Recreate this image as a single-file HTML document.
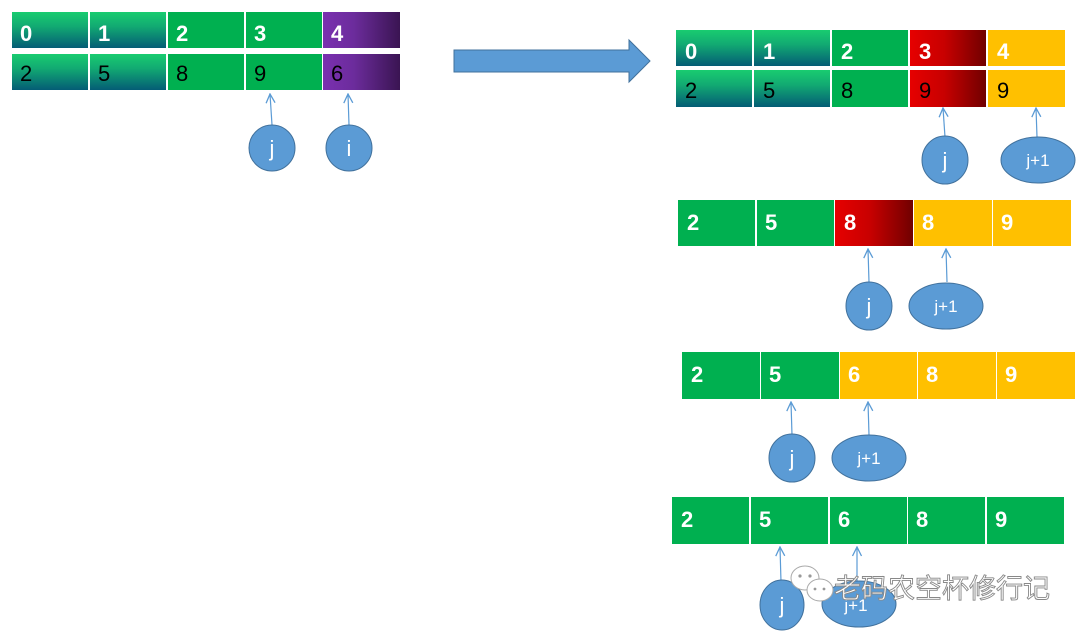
<!DOCTYPE html>
<html><head><meta charset="utf-8"><style>html,body{margin:0;padding:0;background:#fff}svg{display:block}</style></head>
<body>
<svg width="1080" height="635" xmlns="http://www.w3.org/2000/svg" font-family="Liberation Sans, sans-serif">
<defs>
<linearGradient id="teal" x1="0" y1="0" x2="0" y2="1"><stop offset="0" stop-color="#19cc70"/><stop offset="0.4" stop-color="#12aa72"/><stop offset="1" stop-color="#045c75"/></linearGradient>
<linearGradient id="purp" x1="0" y1="0" x2="1" y2="0"><stop offset="0" stop-color="#7a30b0"/><stop offset="0.4" stop-color="#6c2c9c"/><stop offset="1" stop-color="#3a1452"/></linearGradient>
<linearGradient id="red" x1="0" y1="0" x2="1" y2="0"><stop offset="0" stop-color="#e60000"/><stop offset="0.45" stop-color="#c80000"/><stop offset="1" stop-color="#700000"/></linearGradient>
<marker id="ah" viewBox="0 0 12 12" refX="11" refY="6" markerWidth="12" markerHeight="12" orient="auto" markerUnits="userSpaceOnUse"><path d="M2,1.5 L11,6 L2,10.5" fill="none" stroke="#5b9bd5" stroke-width="1.3"/></marker>
</defs>
<g stroke="none">
<rect x="12" y="12" width="76" height="36" fill="url(#teal)"/>
<rect x="90" y="12" width="76" height="36" fill="url(#teal)"/>
<rect x="168" y="12" width="76" height="36" fill="#00b050"/>
<rect x="246" y="12" width="76" height="36" fill="#00b050"/>
<rect x="323" y="12" width="77" height="36" fill="url(#purp)"/>
<rect x="12" y="54" width="76" height="36" fill="url(#teal)"/>
<rect x="90" y="54" width="76" height="36" fill="url(#teal)"/>
<rect x="168" y="54" width="76" height="36" fill="#00b050"/>
<rect x="246" y="54" width="76" height="36" fill="#00b050"/>
<rect x="323" y="54" width="77" height="36" fill="url(#purp)"/>
</g>
<g font-weight="bold" font-size="22" fill="#fff">
<text x="20" y="41">0</text><text x="98" y="41">1</text><text x="176" y="41">2</text><text x="254" y="41">3</text><text x="331" y="41">4</text>
</g>
<g font-size="22" fill="#000">
<text x="20" y="81">2</text><text x="98" y="81">5</text><text x="176" y="81">8</text><text x="254" y="81">9</text><text x="331" y="81">6</text>
</g>
<g stroke="#5b9bd5" stroke-width="1.2" fill="none">
<line x1="272" y1="125" x2="270" y2="94" marker-end="url(#ah)"/>
<line x1="349" y1="125" x2="348" y2="94" marker-end="url(#ah)"/>
</g>
<g fill="#5b9bd5" stroke="#41719c" stroke-width="1">
<circle cx="272" cy="148" r="23"/><circle cx="349" cy="148" r="23"/>
</g>
<g fill="#fff" font-size="22" text-anchor="middle"><text x="272" y="156">j</text><text x="349" y="156">i</text></g>

<path d="M454,50 L629,50 L629,40 L650,61 L629,82 L629,72 L454,72 Z" fill="#5b9bd5" stroke="#41719c" stroke-width="1"/>

<rect x="676" y="30" width="76" height="36" fill="url(#teal)"/>
<rect x="754" y="30" width="76" height="36" fill="url(#teal)"/>
<rect x="832" y="30" width="76" height="36" fill="#00b050"/>
<rect x="910" y="30" width="76" height="36" fill="url(#red)"/>
<rect x="988" y="30" width="77" height="36" fill="#ffc000"/>
<rect x="676" y="70" width="76" height="37" fill="url(#teal)"/>
<rect x="754" y="70" width="76" height="37" fill="url(#teal)"/>
<rect x="832" y="70" width="76" height="37" fill="#00b050"/>
<rect x="910" y="70" width="76" height="37" fill="url(#red)"/>
<rect x="988" y="70" width="77" height="37" fill="#ffc000"/>
<g font-weight="bold" font-size="22" fill="#fff">
<text x="685" y="59">0</text><text x="763" y="59">1</text><text x="841" y="59">2</text><text x="919" y="59">3</text><text x="997" y="59">4</text>
</g>
<g font-size="22" fill="#000">
<text x="685" y="98">2</text><text x="763" y="98">5</text><text x="841" y="98">8</text><text x="919" y="98">9</text><text x="997" y="98">9</text>
</g>

<rect x="678" y="200" width="77" height="46" fill="#00b050"/>
<rect x="757" y="200" width="77" height="46" fill="#00b050"/>
<rect x="835" y="200" width="78" height="46" fill="url(#red)"/>
<rect x="914" y="200" width="78" height="46" fill="#ffc000"/>
<rect x="993" y="200" width="78" height="46" fill="#ffc000"/>
<g font-weight="bold" font-size="22" fill="#fff">
<text x="687" y="230">2</text><text x="765" y="230">5</text><text x="844" y="230">8</text><text x="922" y="230">8</text><text x="1001" y="230">9</text>
</g>

<rect x="682" y="352" width="78" height="47" fill="#00b050"/>
<rect x="761" y="352" width="78" height="47" fill="#00b050"/>
<rect x="840" y="352" width="77" height="47" fill="#ffc000"/>
<rect x="918" y="352" width="78" height="47" fill="#ffc000"/>
<rect x="997" y="352" width="78" height="47" fill="#ffc000"/>
<g font-weight="bold" font-size="22" fill="#fff">
<text x="691" y="382">2</text><text x="769" y="382">5</text><text x="848" y="382">6</text><text x="926" y="382">8</text><text x="1005" y="382">9</text>
</g>

<rect x="672" y="497" width="77" height="47" fill="#00b050"/>
<rect x="751" y="497" width="77" height="47" fill="#00b050"/>
<rect x="830" y="497" width="77" height="47" fill="#00b050"/>
<rect x="908" y="497" width="77" height="47" fill="#00b050"/>
<rect x="987" y="497" width="77" height="47" fill="#00b050"/>
<g font-weight="bold" font-size="22" fill="#fff">
<text x="681" y="527">2</text><text x="759" y="527">5</text><text x="838" y="527">6</text><text x="916" y="527">8</text><text x="995" y="527">9</text>
</g>

<g stroke="#5b9bd5" stroke-width="1.2" fill="none">
<line x1="945" y1="137" x2="943" y2="108" marker-end="url(#ah)"/>
<line x1="1037" y1="137" x2="1036" y2="108" marker-end="url(#ah)"/>
<line x1="869" y1="282" x2="868" y2="249" marker-end="url(#ah)"/>
<line x1="947" y1="282" x2="946" y2="249" marker-end="url(#ah)"/>
<line x1="792" y1="435" x2="791" y2="402" marker-end="url(#ah)"/>
<line x1="869" y1="435" x2="868" y2="402" marker-end="url(#ah)"/>
<line x1="781" y1="582" x2="780" y2="547" marker-end="url(#ah)"/>
<line x1="857" y1="582" x2="857" y2="547" marker-end="url(#ah)"/>
</g>
<g fill="#5b9bd5" stroke="#41719c" stroke-width="1">
<ellipse cx="945" cy="160" rx="23" ry="24"/><ellipse cx="1038" cy="160" rx="37" ry="23"/>
<ellipse cx="869" cy="306" rx="23" ry="24"/><ellipse cx="946" cy="306" rx="37" ry="23"/>
<ellipse cx="792" cy="458" rx="23" ry="24"/><ellipse cx="869" cy="458" rx="37" ry="23"/>
<ellipse cx="782" cy="605" rx="22" ry="25"/><ellipse cx="859" cy="604" rx="37" ry="23"/>
</g>
<g fill="#fff" font-size="22" text-anchor="middle">
<text x="945" y="168">j</text><text x="1038" y="166" font-size="17">j+1</text>
<text x="869" y="314">j</text><text x="946" y="312" font-size="17">j+1</text>
<text x="792" y="466">j</text><text x="869" y="464" font-size="17">j+1</text>
<text x="782" y="613">j</text><text x="856" y="611" font-size="17">j+1</text>
</g>

<g fill="#fff" stroke="#aaa" stroke-width="1">
<ellipse cx="805" cy="578" rx="14" ry="12"/>
<ellipse cx="820" cy="590" rx="13" ry="11"/>
</g>
<g fill="#999"><circle cx="800" cy="576" r="1.6"/><circle cx="810" cy="576" r="1.6"/><circle cx="815" cy="589" r="1.4"/><circle cx="824" cy="589" r="1.4"/></g>
<text x="834" y="598" font-size="27" fill="#fff" stroke="#888" stroke-width="0.9" font-family="Liberation Sans, Noto Sans CJK SC, sans-serif">老码农空杯修行记</text>
</svg>
</body></html>
